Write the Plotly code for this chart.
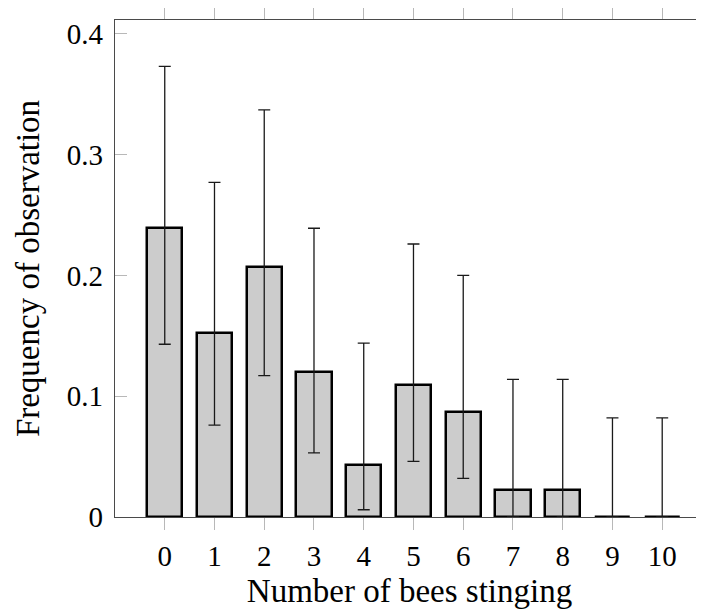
import plotly.graph_objects as go

# Data
bees = [0, 1, 2, 3, 4, 5, 6, 7, 8, 9, 10]
freq = [0.239, 0.152, 0.207, 0.120, 0.043, 0.109, 0.087, 0.022, 0.022, 0.0, 0.0]
ci_high = [0.373, 0.277, 0.337, 0.239, 0.144, 0.226, 0.200, 0.114, 0.114, 0.082, 0.082]
ci_low = [0.143, 0.076, 0.117, 0.053, 0.006, 0.046, 0.032, 0.0, 0.0, 0.0, 0.0]
y_ticks = [0, 0.1, 0.2, 0.3, 0.4]
y_tick_text = ["0", "0.1", "0.2", "0.3", "0.4"]

err_plus = [h - f for h, f in zip(ci_high, freq)]
err_minus = [f - l for f, l in zip(freq, ci_low)]

FONT = "Liberation Serif"

fig = go.Figure()
fig.add_trace(go.Bar(
    x=bees, y=freq, width=0.705,
    marker=dict(color="#cccccc", line=dict(color="#000000", width=2.5)),
    error_y=dict(type="data", symmetric=False, array=err_plus, arrayminus=err_minus,
                 color="#1a1a1a", thickness=1.3, width=6),
    hoverinfo="skip", showlegend=False,
))
# invisible helper trace to show mirrored y ticks on the right side
fig.add_trace(go.Scatter(x=bees, y=freq, yaxis="y2", mode="lines",
                         line=dict(width=0), opacity=0, hoverinfo="skip", showlegend=False))

# the page body adds an 8px offset; the figure is sized to fill the rest of the window
fig.update_layout(
    width=696, height=601,
    margin=dict(l=107, r=0, t=12, b=92, autoexpand=False),
    paper_bgcolor="white", plot_bgcolor="white",
    font=dict(family=FONT, color="#000000", size=30),
    bargap=0,
    xaxis=dict(
        range=[-1, 10.84], tickmode="array", tickvals=bees, ticktext=[str(b) for b in bees],
        showgrid=False, zeroline=False, automargin=False,
        showline=True, linecolor="#4a4a4a", linewidth=1.4, mirror="ticks",
        ticks="outside", ticklen=12, tickwidth=1, tickcolor="#b8b8b8",
        ticklabelstandoff=1,
        tickfont=dict(family=FONT, size=29),
        title=dict(text="Number of bees stinging", font=dict(family=FONT, size=33), standoff=13),
    ),
    yaxis=dict(
        range=[0, 0.4114], tickmode="array", tickvals=y_ticks, ticktext=y_tick_text,
        showgrid=False, zeroline=False, automargin=False,
        showline=True, linecolor="#4a4a4a", linewidth=1.4, mirror=False,
        ticks="inside", ticklen=12, tickwidth=1, tickcolor="#b8b8b8",
        ticklabelstandoff=5,
        tickfont=dict(family=FONT, size=29),
        title=dict(text="Frequency of observation", font=dict(family=FONT, size=33), standoff=17),
    ),
    yaxis2=dict(
        overlaying="y", side="right", matches="y", anchor="x", automargin=False,
        tickmode="array", tickvals=y_ticks, showticklabels=False,
        showgrid=False, zeroline=False, showline=False,
        ticks="inside", ticklen=4, tickwidth=1, tickcolor="#b8b8b8",
    ),
)

fig.write_html("out.html")
